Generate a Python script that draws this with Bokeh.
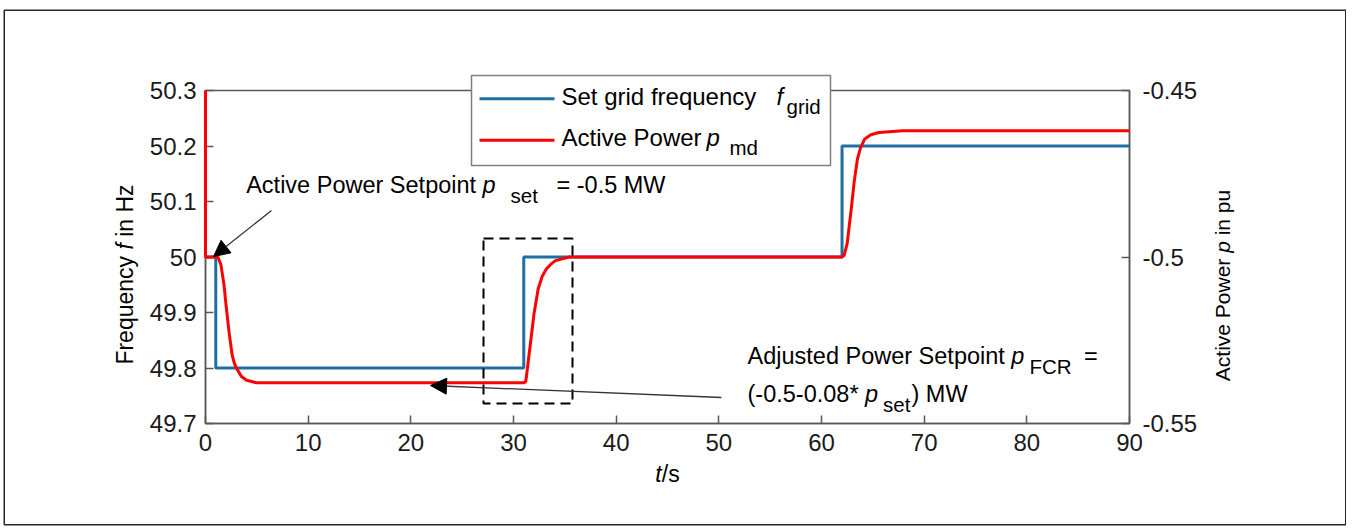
from bokeh.plotting import figure
from bokeh.models import (Range1d, LinearAxis, FixedTicker, CustomJSTickFormatter, Label,
                          Arrow, NormalHead, BoxAnnotation)
from bokeh.embed import file_html
from bokeh.resources import INLINE

# ---------------- data ----------------
t_grid = [0.0, 1.0, 31.0, 62.0, 90.0]
f_grid = [50.0, 49.8, 50.0, 50.2, 50.2]

t_power = [0.0, 0.0, 1.2, 1.5, 1.8, 2.0, 2.3, 2.6, 2.8, 3.0, 3.5, 4.0, 5.0,
           31.0, 31.2, 31.45, 31.7, 32.0, 32.4, 32.8, 33.2, 33.7, 34.1, 35.4,
           62.0, 62.2, 62.5, 62.9, 63.2, 63.5, 63.8, 64.2, 64.8, 65.6, 67.9, 90.0]
p_power = [-0.45, -0.5, -0.5, -0.5023, -0.5083, -0.5144, -0.5227, -0.5295, -0.5318, -0.5333, -0.5359, -0.5370, -0.5378,
           -0.5378, -0.5374, -0.531, -0.5247, -0.517, -0.5096, -0.5058, -0.5036, -0.502, -0.5011, -0.5,
           -0.5, -0.4995, -0.496, -0.4855, -0.477, -0.4706, -0.4672, -0.4646, -0.4633, -0.4626, -0.4621, -0.4621]

x_ticks = [0, 10, 20, 30, 40, 50, 60, 70, 80, 90]
f_ticks = [49.7, 49.8, 49.9, 50.0, 50.1, 50.2, 50.3]
p_ticks = [-0.55, -0.5, -0.45]

# ---------------- layout (page pixels) ----------------
PX0, PY0 = 1, 1            # canvas top-left as it lands on the page
W, H = 1346, 526
FL, FR, FT, FB = 206, 1130, 91, 424   # axes box edges on the page
kx = (x_ticks[-1] - x_ticks[0]) / (FR - FL)
ky = (f_ticks[-1] - f_ticks[0]) / (FB - FT)
kp = (p_ticks[-1] - p_ticks[0]) / (FB - FT)

def dx(px):
    return x_ticks[0] + (px - FL) * kx

def dy(py):
    return f_ticks[0] + (FB - py) * ky

FONT = "Liberation Sans"
AX = "#595959"
BLUE = "#1f6fa3"
RED = "#ff0000"

p = figure(width=W, height=H,
           x_range=Range1d(dx(PX0), dx(PX0 + W)),
           y_range=Range1d(dy(PY0 + H), dy(PY0)),
           output_backend="svg", toolbar_location=None, min_border=0)
p.extra_y_ranges = {"p": Range1d(p_ticks[0] - (PY0 + H - FB) * kp, p_ticks[0] + (FB - PY0) * kp)}
p.xgrid.visible = False
p.ygrid.visible = False
p.outline_line_color = None
p.background_fill_color = "white"
p.border_fill_color = "white"

# outer border of the figure
p.add_layout(BoxAnnotation(left=dx(4.75), right=dx(1346.25), top=dy(10.75), bottom=dy(525.25),
                           fill_color=None, fill_alpha=0, line_color="#262626",
                           line_alpha=1.0, line_width=1.5, level="underlay"))
# axes box
p.add_layout(BoxAnnotation(left=x_ticks[0], right=x_ticks[-1], bottom=f_ticks[0], top=f_ticks[-1],
                           fill_color=None, fill_alpha=0, line_color=AX,
                           line_alpha=1.0, line_width=1.5, level="underlay"))

right = LinearAxis(y_range_name="p")
p.add_layout(right, "right")

p.xaxis[0].fixed_location = f_ticks[0]
p.xaxis[0].bounds = (x_ticks[0], x_ticks[-1])
p.yaxis[0].fixed_location = x_ticks[0]
p.yaxis[0].bounds = (f_ticks[0], f_ticks[-1])
right.fixed_location = x_ticks[-1]
right.bounds = (p_ticks[0], p_ticks[-1])

fmt_code = "return String(Number(tick.toFixed(2)));"
for ax, ticks, standoff in [(p.xaxis[0], x_ticks, 10), (p.yaxis[0], f_ticks, 9), (right, p_ticks, 13)]:
    ax.ticker = FixedTicker(ticks=ticks)
    ax.formatter = CustomJSTickFormatter(code=fmt_code)
    ax.level = "underlay"
    ax.major_tick_in = 8
    ax.major_tick_out = 0
    ax.minor_tick_line_color = None
    ax.axis_line_color = AX
    ax.axis_line_width = 1.5
    ax.major_tick_line_color = AX
    ax.major_tick_line_width = 1.5
    ax.major_label_text_font = FONT
    ax.major_label_text_font_size = "24px"
    ax.major_label_text_color = "#1a1a1a"
    ax.major_label_standoff = standoff
    ax.axis_label = None

blue = p.step(t_grid, f_grid, mode="after", line_color=BLUE, line_width=3)
red = p.line(t_power, p_power, y_range_name="p", line_color=RED, line_width=3)

# dashed box
p.add_layout(BoxAnnotation(left=dx(484), right=dx(573), top=dy(239), bottom=dy(404),
                           fill_color=None, fill_alpha=0, line_color="black", line_alpha=1.0,
                           line_width=2, line_dash="10 6"))

# arrows
p.add_layout(Arrow(end=NormalHead(size=16, fill_color="black", line_color="black"),
                   x_start=dx(272), y_start=dy(211), x_end=dx(214), y_end=dy(257),
                   line_color="#333333", line_width=1.3))
p.add_layout(Arrow(end=NormalHead(size=16, fill_color="black", line_color="black"),
                   x_start=dx(722), y_start=dy(398), x_end=dx(431), y_end=dy(386),
                   line_color="#333333", line_width=1.3))

# legend box with line samples (drawn as annotations so the texts can sit on top)
p.add_layout(BoxAnnotation(left=dx(472), right=dx(831), top=dy(76), bottom=dy(166),
                           fill_color="white", fill_alpha=1.0, line_color="#7f7f7f",
                           line_alpha=1.0, line_width=1.5))
for yy, col in [(99.3, BLUE), (140.7, RED)]:
    p.add_layout(Arrow(start=None, end=None, x_start=dx(480), y_start=dy(yy),
                       x_end=dx(555), y_end=dy(yy), line_color=col, line_width=3))

# ---- text helpers ----
AW = {' ': 278, '(': 333, ')': 333, '*': 389, '-': 333, '.': 278, '/': 278, '=': 584,
      'A': 667, 'C': 722, 'F': 611, 'H': 722, 'M': 833, 'P': 667, 'R': 722, 'S': 667, 'W': 944,
      'a': 556, 'c': 500, 'd': 556, 'e': 556, 'f': 278, 'g': 556, 'i': 222, 'j': 222, 'm': 833,
      'n': 556, 'o': 556, 'p': 556, 'q': 556, 'r': 333, 's': 500, 't': 278, 'u': 556, 'v': 500,
      'w': 722, 'y': 500, 'z': 500}
for d in "0123456789":
    AW[d] = 556

def tw(s, size):
    return sum(AW.get(c, 556) for c in s) * size / 1000.0

def lab(px, py, text, size, italic=False, vertical=False):
    """(px, py): start of text; py is the baseline (for vertical text, px is the baseline)."""
    if vertical:
        x, y = px - 0.35 * size, py
    else:
        x, y = px, py - 0.35 * size
    p.add_layout(Label(x=dx(x), y=dy(y), text=text, text_font=FONT,
                       text_font_size=f"{size}px", text_color="#000000",
                       text_font_style="italic" if italic else "normal",
                       angle=1.5707963267948966 if vertical else 0.0,
                       text_align="left", text_baseline="middle", level="overlay"))

def run(px, py, parts):
    """parts: (text, size, italic, baseline_shift, gap_before)"""
    x = px
    for text, size, italic, sh, gap in parts:
        x += gap
        stripped = text.lstrip(" ")
        x += tw(text[:len(text) - len(stripped)], size)
        lab(x, py + sh, stripped, size, italic)
        x += tw(stripped, size)

def vrun(bx, py_bottom, parts):
    y = py_bottom
    for text, size, italic in parts:
        stripped = text.lstrip(" ")
        y -= tw(text[:len(text) - len(stripped)], size)
        lab(bx, y, stripped, size, italic, vertical=True)
        y -= tw(stripped, size)

MAIN = 23.5
SUB = 20.5

# legend texts
lab(562, 105, "Set grid frequency", 24)
lab(777, 105, "f", 24, True)
lab(787, 114, "grid", SUB)
lab(562, 146, "Active Power", 24)
lab(707, 146, "p", 24, True)
lab(730, 155, "md", SUB)

# annotation 1
lab(246.7, 194, "Active Power Setpoint", MAIN)
lab(483, 194, "p", MAIN, True)
lab(511, 203, "set", SUB)
lab(557, 194, "= -0.5 MW", MAIN)

# annotation 2
run(748, 365, [("Adjusted Power Setpoint ", MAIN, False, 0, 0),
               ("p", MAIN, True, 0, 0),
               ("FCR", SUB, False, 9, 5),
               (" =", MAIN, False, 0, 6)])
run(748, 403, [("(-0.5-0.08* ", MAIN, False, 0, 0),
               ("p", MAIN, True, 0, 0),
               ("set", SUB, False, 9, 5),
               (") MW", MAIN, False, 0, 1)])

# axis labels
left_parts = [("Frequency ", 23, False), ("f", 23, True), (" in Hz", 23, False)]
tot = sum(tw(t, s) for t, s, _ in left_parts)
vrun(134, 275 + tot / 2, left_parts)

right_parts = [("Active Power ", 21, False), ("p", 21, True), (" in pu", 21, False)]
tot = sum(tw(t, s) for t, s, _ in right_parts)
vrun(1230, 286 + tot / 2, right_parts)

xparts = [("t", 23, True, 0, 0), ("/s", 23, False, 0, 0)]
tot = sum(tw(t, s) for t, s, _, _, _ in xparts)
run((FL + FR) / 2 - tot / 2, 483, xparts)

open("out.html", "w").write(file_html(p, INLINE))
